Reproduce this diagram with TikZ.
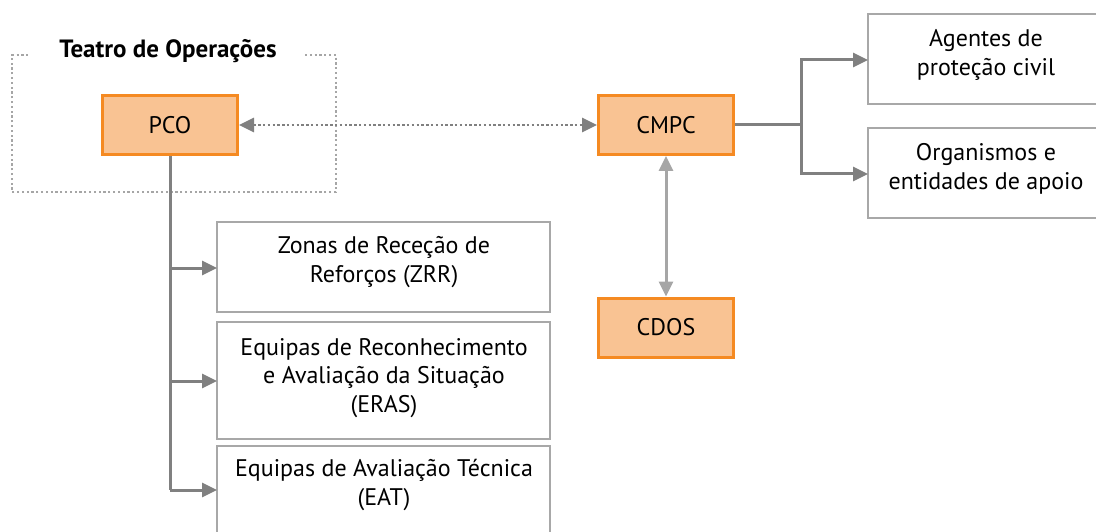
\documentclass[tikz,border=0pt]{standalone}
\usepackage{fontspec}
\setmainfont{PT Sans}
\usetikzlibrary{arrows.meta}
\definecolor{orfill}{HTML}{F9C393}
\definecolor{ordraw}{HTML}{F58A22}
\definecolor{boxgray}{HTML}{A8A8A8}
\definecolor{lingray}{HTML}{808080}
\definecolor{lightlin}{HTML}{A6A6A6}
\begin{document}
\begin{tikzpicture}[x=1pt,y=-1pt,
  every node/.style={font=\fontsize{24}{28.5}\selectfont, inner sep=0pt, align=center},
  hub/.style={draw=ordraw, fill=orfill, line width=3pt, minimum width=135pt, minimum height=59pt},
  leaf/.style={draw=boxgray, line width=1.6pt},
  conn/.style={draw=lingray, line width=3pt, -{Triangle[length=15pt,width=14pt]}}]
\useasboundingbox (0,0) rectangle (1096,532);
% dotted frame
\node[font=\bfseries\fontsize{25}{28}\selectfont] (title) at (168,51) {Teatro de Operações};
\coordinate (fa) at (30,55);
\coordinate (fb) at (305,55);
\coordinate (fc) at (336,55);
\coordinate (fd) at (336,192);
\coordinate (fe) at (12,192);
\coordinate (ff) at (12,55);
\draw[lightlin, line width=2.2pt, dash pattern=on 2.2pt off 2.6pt] (fb) -- (fc) -- (fd) -- (fe) -- (ff) -- (fa);
% hubs
\node[hub] (pco) at (170,125) {PCO};
\node[hub] (cmpc) at (666,125) {CMPC};
\node[hub] (cdos) at (666,327.5) {CDOS};
% leaves
\draw[leaf] (868,14) rectangle (1100,104);
\node (ag) at (986,55) {Agentes de\\proteção civil};
\coordinate (agw) at (868,60);
\draw[leaf] (868,128) rectangle (1100,218);
\node (org) at (986,169) {Organismos e\\entidades de apoio};
\coordinate (orgw) at (868,174);
\draw[leaf] (217,222) rectangle (550,312);
\node (zrr) at (384,262) {Zonas de Receção de\\Reforços (ZRR)};
\coordinate (zrrw) at (217,268);
\draw[leaf] (217,322) rectangle (550,439);
\node (eras) at (384,378) {Equipas de Reconhecimento\\e Avaliação da Situação\\(ERAS)};
\coordinate (erasw) at (217,381);
\draw[leaf] (217,446) rectangle (550,540);
\node (eat) at (384,485) {Equipas de Avaliação Técnica\\(EAT)};
\coordinate (eatw) at (217,490);
% connectors
\draw[lingray, line width=2.8pt, dash pattern=on 2.4pt off 2.4pt, {Triangle[length=15pt,width=14pt]}-{Triangle[length=15pt,width=14pt]}] (pco.east) -- (cmpc.west);
\draw[lightlin, line width=3pt, {Triangle[length=15pt,width=14pt]}-{Triangle[length=15pt,width=14pt]}] (cmpc.south) -- (cdos.north);
\draw[lingray, line width=3pt] (pco.south) -- (170,490);
\draw[conn] (170,268) -- (zrrw);
\draw[conn] (170,381) -- (erasw);
\draw[conn] (170,490) -- (eatw);
\draw[lingray, line width=3pt] (cmpc.east) -- (801,125);
\draw[conn] (801,125) |- (agw);
\draw[conn] (801,125) |- (orgw);
\end{tikzpicture}
\end{document}
